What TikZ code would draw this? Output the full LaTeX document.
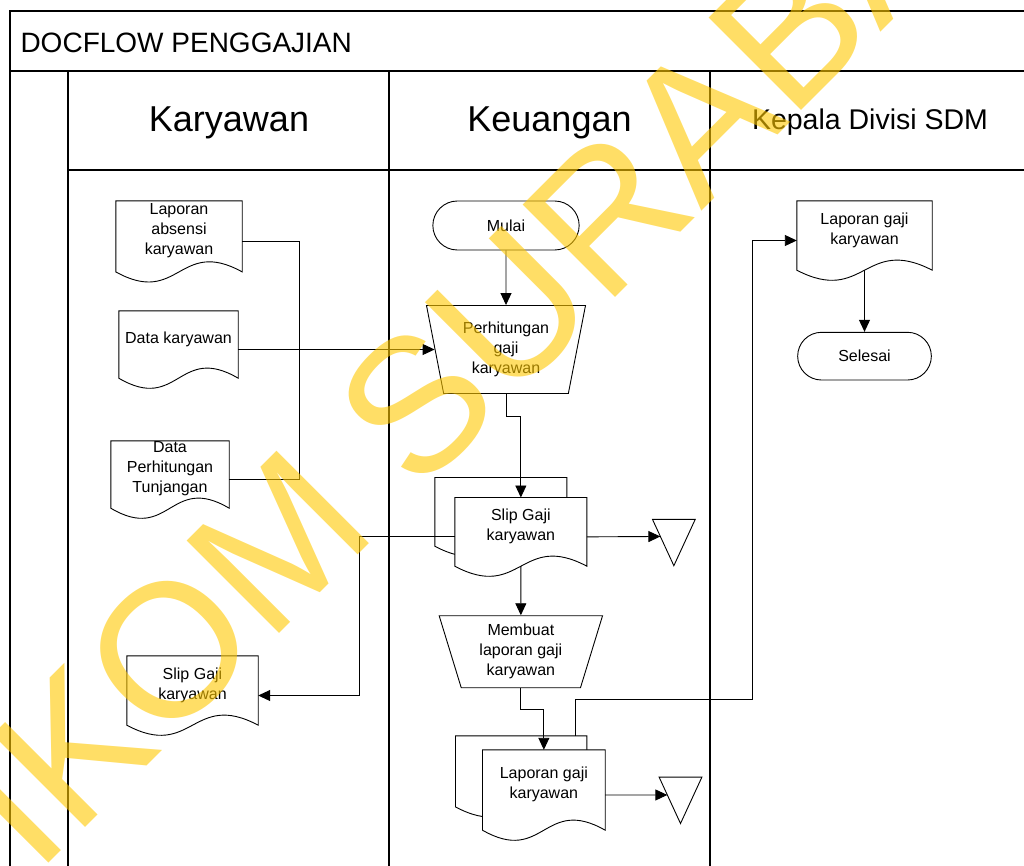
\documentclass[tikz,border=0pt]{standalone}
\usepackage{fontspec}
\setmainfont{Liberation Sans}
\usetikzlibrary{arrows.meta, positioning, calc, shapes.geometric, shapes.misc, backgrounds}

\definecolor{wmyellow}{RGB}{255,200,0}

\tikzset{
  frame/.style={line width=1.2pt},
  line/.style={line width=0.9pt},
  arr/.style={line, -{Triangle[length=12pt,width=11pt]}},
  body/.style={font=\fontsize{16}{20}\selectfont, align=center},
  doc/.style={body, rectangle, inner sep=0pt},
  term/.style={body, rounded rectangle, draw, line width=0.9pt, fill=white, inner sep=0pt},
  manual/.style={body, trapezium, trapezium stretches body, draw, line width=0.9pt, fill=white, inner sep=0pt},
  tri/.style={rectangle, inner sep=0pt, minimum width=42.4pt, minimum height=46pt},
  lane/.style={anchor=base, font=\fontsize{36}{40}\selectfont},
}

% outline of a document symbol, wavy bottom
\newcommand{\docout}[1]{%
  \begin{pgfonlayer}{background}
  \draw[line, fill=white] (#1.north west) -- (#1.north east) -- ([yshift=-11pt]#1.south east)
    .. controls ([yshift=24pt]#1.south) and ([yshift=-46pt]#1.south) .. ([yshift=-11pt]#1.south west) -- cycle;
  \end{pgfonlayer}}
% offline storage
\newcommand{\triout}[1]{\draw[line] (#1.north west) -- (#1.north east) -- (#1.south) -- cycle;}

\begin{document}
\begin{tikzpicture}[x=1pt, y=-1pt]
\useasboundingbox (0,0) rectangle (1024,865);

% Swimlanes
\draw[frame] (10,870) -- (10,11) -- (1030,11);
\draw[frame] (10,71) -- (1030,71);
\draw[frame] (68,71) -- (68,870);
\draw[frame] (68,170) -- (1030,170);
\draw[frame] (389,71) -- (389,870);
\draw[frame] (710,71) -- (710,870);
\node[anchor=base west, font=\fontsize{28}{30}\selectfont] (title) at (17,52) {DOCFLOW PENGGAJIAN};
\node[lane] (karyawan) at (229,131) {Karyawan};
\node[lane] (keuangan) at (549.5,131) {Keuangan};
\node[lane, font=\fontsize{28.5}{30}\selectfont] (kepala) at (870,129) {Kepala Divisi SDM};

% Karyawan
\node[doc, minimum width=126pt, minimum height=59.7pt] (absensi) at (179,230.85) {Laporan\\absensi\\karyawan};
\node[doc, minimum width=119pt, minimum height=56pt] (datakar) at (178.5,339) {Data karyawan};
\node[doc, minimum width=118pt, minimum height=56pt] (tunj) at (170,469) {Data\\Perhitungan\\Tunjangan};
\node[doc, minimum width=131pt, minimum height=58pt] (slipkar) at (192.5,685) {Slip Gaji\\karyawan};
\docout{absensi}
\docout{datakar}
\docout{tunj}
\docout{slipkar}

% Keuangan
\node[term, minimum width=146.3pt, minimum height=49pt] (mulai) at (506,225.5) {Mulai};
\node[manual, trapezium left angle=107.35, trapezium right angle=107.35,
  minimum width=159pt, minimum height=88pt] (hitung) at (506,349.5) {Perhitungan\\gaji\\karyawan};
\node[doc, minimum width=131.7pt, minimum height=57.3pt] (slipback) at (500.85,506.35) {};
\node[doc, minimum width=131.7pt, minimum height=57.3pt] (slipfront) at (520.85,526.35) {Slip Gaji\\karyawan};
\docout{slipback}
\docout{slipfront}
\node[tri] (tri1) at (673.85,542.5) {};
\triout{tri1}
\node[manual, trapezium left angle=111.9, trapezium right angle=111.9,
  minimum width=163.4pt, minimum height=72pt] (membuat) at (520.85,651.7) {Membuat\\laporan gaji\\karyawan};
\node[doc, minimum width=131pt, minimum height=59.7pt] (lapback) at (521.2,765.85) {};
\node[doc, minimum width=122.3pt, minimum height=69pt] (lapfront) at (543.85,784.5) {Laporan gaji\\karyawan};
\docout{lapback}
\docout{lapfront}
\node[tri] (tri2) at (680.5,800.3) {};
\triout{tri2}

% Kepala Divisi SDM
\node[doc, minimum width=135pt, minimum height=58pt] (lapgaji) at (864.5,230) {Laporan gaji\\karyawan};
\docout{lapgaji}
\node[term, minimum width=133.7pt, minimum height=47.7pt] (selesai) at (864.5,356.15) {Selesai};

% Alur
\draw[line] ([yshift=-10.5pt]absensi.east) -| ([xshift=70.5pt,yshift=-10.5pt]tunj.east) -- ([yshift=-10.5pt]tunj.east);
\draw[arr] ([yshift=-10.5pt]datakar.east) -- (hitung.west);
\draw[arr] (mulai) -- (hitung);
\draw[arr] (hitung.south) -- ++(0,22) -| (slipfront.north);
\draw[arr] ([yshift=-10.5pt]slipfront.west) -- ++(-95,0) |- ([yshift=-10.5pt]slipkar.east);
\draw[arr] ([yshift=-10.5pt]slipfront.east) -- ($(tri1.north west)!0.37!(tri1.south)$);
\draw[arr] ([yshift=-11pt]slipfront.south) -- (membuat.north);
\draw[arr] (membuat.south) -- ++(0,21.6) -| (lapfront.north);
\draw[arr] ([yshift=-10.5pt]lapfront.east) -- ($(tri2.north west)!0.385!(tri2.south)$);
\draw[arr] ([xshift=54pt]lapback.north) -- ++(0,-36.7) -| ([xshift=-44pt,yshift=-10.5pt]lapgaji.west) -- ([yshift=-10.5pt]lapgaji.west);
\draw[arr] ([yshift=-11pt]lapgaji.south) -- (selesai);

% Watermark
\node[rotate=45, text=wmyellow, text opacity=0.6, font=\fontsize{190}{190}\selectfont] (wm) at (451,369) {STIKOM SURABAYA};
\end{tikzpicture}
\end{document}
